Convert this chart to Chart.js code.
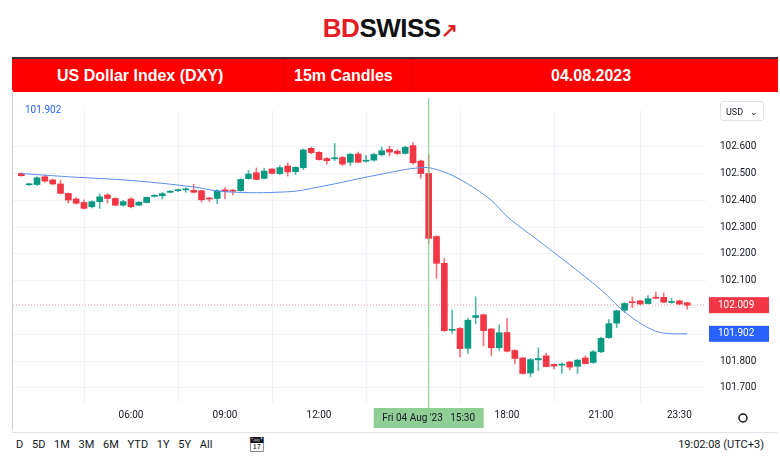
<!DOCTYPE html>
<html><head><meta charset="utf-8">
<script src="https://cdn.jsdelivr.net/npm/chart.js@4"></script>
<style>
body{margin:0;width:780px;height:468px;background:#fff;font-family:Roboto,"Liberation Sans",sans-serif;position:relative;overflow:hidden}
#logo{position:absolute;top:13px;left:0;width:780px;text-align:center;font:bold 26px "Liberation Sans",Arial,sans-serif;letter-spacing:-0.5px}
#banner{position:absolute;left:12px;top:57px;width:766px;height:33px;background:#ff0000;border-top:2px solid #333;color:#fff;font:bold 16px "Liberation Sans",Arial,sans-serif}
#banner div{position:absolute;top:8px}
#banner div.sep{position:absolute;top:0;width:1px;height:33px;background:#e00000}
#wrap{position:absolute;left:12px;top:90px;width:766px;height:340px;border-left:1px solid #ccc}
#usd{position:absolute;left:720px;top:101px;width:44px;height:20px;border:1px solid #e0e3eb;border-radius:3px;font-size:9px;color:#131722;line-height:20px;padding-left:5px;box-sizing:border-box}
#toplbl{position:absolute;left:25px;top:104px;font-size:10px;color:#2962ff}
#bar{position:absolute;left:12px;top:432px;width:766px;height:36px;border-top:1px solid #e0e3eb;font-size:11px;color:#131722}
</style></head><body>
<div id="logo"><span style="color:#e31e24">BD</span><span style="color:#111">SWISS</span><span style="color:#e31e24;font-size:20px">&#x2197;</span></div>
<div id="banner">
<div style="left:45px">US Dollar Index (DXY)</div><div class="sep" style="left:271px"></div>
<div style="left:282px">15m Candles</div><div class="sep" style="left:400px"></div>
<div style="left:539px">04.08.2023</div>
</div>
<div id="wrap"><canvas id="c" width="766" height="340"></canvas></div>
<div id="toplbl">101.902</div>
<div id="usd">USD &nbsp;&nbsp;&#x2304;</div>
<div id="bar">
<span style="position:absolute;left:4px;top:5px;word-spacing:6px">D 5D 1M 3M 6M YTD 1Y 5Y All</span>
<span style="position:absolute;left:236px;top:3px;font-size:14px">&#x1F4C5;&#xFE0E;</span>
<span style="position:absolute;right:14px;top:5px">19:02:08 (UTC+3)</span>
</div>
<script>
const times = ["02:30","02:45","03:00","03:15","03:30","03:45","04:00","04:15","04:30","04:45","05:00","05:15","05:30","05:45",
"06:00","06:15","06:30","06:45","07:00","07:15","07:30","07:45","08:00","08:15","08:30","08:45",
"09:00","09:15","09:30","09:45","10:00","10:15","10:30","10:45","11:00","11:15","11:30","11:45",
"12:00","12:15","12:30","12:45","13:00","13:15","13:30","13:45","14:00","14:15","14:30","14:45",
"15:00","15:15","15:30","15:45","16:00","16:15","16:30","16:45","17:00","17:15","17:30","17:45",
"18:00","18:15","18:30","18:45","19:00","19:15","19:30","19:45","20:00","20:15","20:30","20:45",
"21:00","21:15","21:30","21:45","22:00","22:15","22:30","22:45","23:00","23:15","23:30","23:45"];
const open = [102.500,102.458,102.459,102.488,102.476,102.461,102.426,102.405,102.392,102.376,102.395,102.420,102.407,102.382,
102.405,102.382,102.392,102.415,102.417,102.430,102.436,102.439,102.437,102.436,102.408,102.407,
102.439,102.437,102.436,102.481,102.503,102.482,102.517,102.500,102.528,102.507,102.522,102.594,
102.579,102.556,102.555,102.560,102.542,102.573,102.546,102.550,102.570,102.590,102.583,102.575,
102.604,102.547,102.500,102.265,102.165,101.915,101.922,101.848,101.963,101.973,101.920,101.850,
101.907,101.840,101.812,101.756,101.805,101.820,101.788,101.785,101.797,101.781,101.812,101.795,
101.835,101.888,101.942,101.990,102.020,102.025,102.015,102.038,102.038,102.019,102.025,102.018];
const high = [102.503,102.463,102.488,102.495,102.480,102.476,102.428,102.410,102.402,102.398,102.424,102.425,102.410,102.400,
102.410,102.395,102.413,102.422,102.430,102.437,102.442,102.448,102.460,102.437,102.411,102.440,
102.448,102.440,102.481,102.512,102.521,102.520,102.518,102.530,102.540,102.525,102.592,102.598,
102.582,102.560,102.612,102.565,102.575,102.580,102.568,102.575,102.599,102.602,102.590,102.603,
102.615,102.550,102.569,102.268,102.183,101.991,101.925,101.960,102.040,101.976,101.923,101.935,
101.960,101.843,101.814,101.810,101.850,101.830,101.790,101.795,101.800,101.806,101.820,101.840,
101.890,101.955,101.990,102.018,102.040,102.028,102.045,102.058,102.055,102.035,102.028,102.020];
const low = [102.490,102.456,102.455,102.468,102.458,102.424,102.390,102.386,102.368,102.372,102.370,102.390,102.380,102.378,
102.372,102.380,102.390,102.412,102.405,102.428,102.432,102.430,102.428,102.394,102.395,102.388,
102.405,102.420,102.434,102.479,102.476,102.480,102.498,102.496,102.490,102.496,102.514,102.574,
102.550,102.535,102.548,102.530,102.530,102.540,102.542,102.546,102.565,102.565,102.570,102.572,
102.535,102.482,102.239,102.109,101.910,101.904,101.816,101.829,101.940,101.857,101.820,101.840,
101.835,101.790,101.752,101.742,101.765,101.778,101.770,101.754,101.767,101.754,101.789,101.792,
101.832,101.885,101.925,101.982,102.000,102.011,102.013,102.033,102.018,102.016,102.011,101.994];
const close = [102.492,102.461,102.484,102.472,102.461,102.426,102.401,102.389,102.370,102.395,102.413,102.407,102.382,102.395,
102.376,102.393,102.411,102.418,102.425,102.434,102.439,102.441,102.430,102.402,102.405,102.436,
102.433,102.434,102.478,102.498,102.478,102.509,102.501,102.522,102.506,102.523,102.588,102.578,
102.552,102.548,102.558,102.535,102.572,102.542,102.548,102.571,102.585,102.580,102.575,102.598,
102.540,102.500,102.258,102.165,101.914,101.918,101.847,101.953,101.970,101.914,101.850,101.906,
101.837,101.810,101.754,101.806,101.810,101.780,101.782,101.789,101.778,101.804,101.791,101.835,
101.885,101.940,101.988,102.015,102.018,102.013,102.033,102.035,102.020,102.021,102.013,102.009];
// moving average line, read at sample times
const maTimes = ["02:30","04:00","06:00","08:00","09:00","11:00","12:00","14:00","15:15","15:45","16:30","17:30","18:00","19:00","20:00","21:00","21:45","22:30","23:00","23:45"];
const maValues = [102.500,102.488,102.474,102.450,102.432,102.432,102.450,102.498,102.522,102.515,102.478,102.400,102.340,102.250,102.160,102.066,101.984,101.925,101.905,101.902];
const yTicks = [102.600,102.500,102.400,102.300,102.200,102.100,102.000,101.900,101.800,101.700];
const xTicks = [6,9,12,15,18,21,23.5];
const lastPrice = 102.009, maLast = 101.902;

const UP = '#089981', DN = '#f23645';
const hrs = s => { const p = s.split(':'); return +p[0] + p[1]/60; };
const col = times.map((t,i) => close[i] >= open[i] ? UP : DN);
const fmtT = h => String(Math.floor(h)).padStart(2,'0') + ':' + String(Math.round((h%1)*60)).padStart(2,'0');

const overlay = {
  id: 'overlay',
  afterDraw(ch) {
    const {ctx, chartArea: a, scales: {x, y}} = ch;
    ctx.save();
    // last price dotted line
    const yp = y.getPixelForValue(lastPrice);
    ctx.strokeStyle = 'rgba(242,54,69,0.5)'; ctx.setLineDash([1,2]); ctx.lineWidth = 1;
    ctx.beginPath(); ctx.moveTo(a.left, yp); ctx.lineTo(a.right, yp); ctx.stroke();
    ctx.setLineDash([]);
    // crosshair
    const xc = x.getPixelForValue(hrs('15:30'));
    ctx.strokeStyle = '#7ccf84'; ctx.beginPath(); ctx.moveTo(xc, 8); ctx.lineTo(xc, a.bottom + 8); ctx.stroke();
    ctx.fillStyle = '#8fcf95'; ctx.fillRect(xc - 55, a.bottom + 5, 110, 20);
    ctx.fillStyle = '#131722'; ctx.font = '10px Roboto'; ctx.textAlign = 'center'; ctx.textBaseline = 'middle';
    ctx.fillText("Fri 04 Aug '23   15:30", xc, a.bottom + 15);
    // price labels
    ctx.font = '10px Roboto'; ctx.textAlign = 'left';
    [[lastPrice, DN], [maLast, '#2962ff']].forEach(([v, c]) => {
      const py = y.getPixelForValue(v);
      ctx.fillStyle = c; ctx.fillRect(a.right + 3, py - 8, 60, 16);
      ctx.fillStyle = '#fff'; ctx.fillText(v.toFixed(3), a.right + 12, py);
    });
    // gear
    ctx.strokeStyle = '#131722'; ctx.lineWidth = 1.5;
    ctx.beginPath(); ctx.arc(a.right + 37, a.bottom + 15, 4, 0, Math.PI*2); ctx.stroke();
    ctx.restore();
  }
};

new Chart(document.getElementById('c'), {
  data: {
    datasets: [{
      type: 'bar', label: 'wick', grouped: false, barThickness: 1, minBarLength: 1,
      data: times.map((t,i) => ({x: hrs(t), y: [low[i], high[i]]})),
      backgroundColor: col.map(c => c + 'b0'), order: 2
    },{
      type: 'bar', label: 'body', grouped: false, barThickness: 6, minBarLength: 1,
      data: times.map((t,i) => ({x: hrs(t), y: [open[i], close[i]]})),
      backgroundColor: col, order: 1
    },{
      type: 'line', label: 'ma', data: maTimes.map((t,i) => ({x: hrs(t), y: maValues[i]})),
      borderColor: '#5b8def', borderWidth: 1, pointRadius: 0, tension: 0.4, order: 0
    }]
  },
  options: {
    responsive: false, animation: false,
    layout: {padding: {left: 0, top: 5, right: 0, bottom: 0}},
    plugins: {legend: {display: false}, tooltip: {enabled: false}},
    scales: {
      x: {
        type: 'linear', min: 2.234, max: 24.35, offset: false,
        afterBuildTicks: s => { s.ticks = xTicks.map(v => ({value: v})); },
        afterFit: s => { s.height = 27; },
        ticks: {callback: v => v === 15 ? '' : fmtT(v), color: '#131722', font: {size: 10, family: 'Roboto'}, maxRotation: 0, padding: 6},
        grid: {color: '#f0f3fa', drawTicks: false}, border: {display: false}
      },
      y: {
        position: 'right', min: 101.644, max: 102.737,
        afterBuildTicks: s => { s.ticks = yTicks.map(v => ({value: v})); },
        afterFit: s => { s.width = 73; },
        ticks: {callback: v => v.toFixed(3), color: '#131722', font: {size: 10, family: 'Roboto'}, padding: 14},
        grid: {color: '#f0f3fa', drawTicks: false}, border: {display: false}
      }
    }
  },
  plugins: [overlay]
});
</script>
</body></html>
